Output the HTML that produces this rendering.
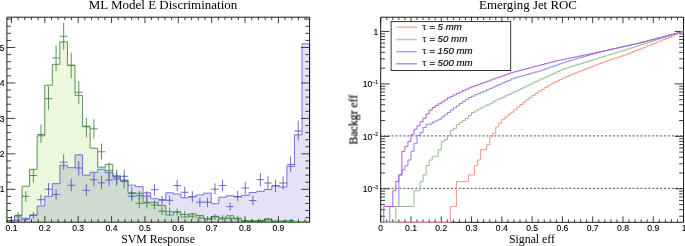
<!DOCTYPE html>
<html lang="en">
<head>
<meta charset="utf-8">
<title>ML Model E Discrimination / Emerging Jet ROC</title>
<style>
html,body{margin:0;padding:0;background:#fff;}
body{width:685px;height:246px;overflow:hidden;}
svg{display:block;}
</style>
</head>
<body>
<svg width="685" height="246" viewBox="0 0 685 246">
<rect x="0" y="0" width="685" height="246" fill="#fff"/>
<g id="left-plot">
<path d="M6.90 222.20 L6.90 220.40 L14.47 220.40 L14.47 215.70 L22.04 215.70 L22.04 186.20 L29.60 186.20 L29.60 169.30 L37.17 169.30 L37.17 135.80 L44.74 135.80 L44.74 85.20 L52.30 85.20 L52.30 64.30 L59.87 64.30 L59.87 41.80 L67.44 41.80 L67.44 65.30 L75.01 65.30 L75.01 95.30 L82.58 95.30 L82.58 126.20 L90.14 126.20 L90.14 148.20 L97.71 148.20 L97.71 167.20 L105.28 167.20 L105.28 164.30 L112.84 164.30 L112.84 175.80 L120.41 175.80 L120.41 180.00 L127.98 180.00 L127.98 192.80 L135.55 192.80 L135.55 193.30 L143.12 193.30 L143.12 202.20 L150.68 202.20 L150.68 202.20 L158.25 202.20 L158.25 205.60 L165.82 205.60 L165.82 215.00 L173.38 215.00 L173.38 212.00 L180.95 212.00 L180.95 217.00 L188.52 217.00 L188.52 213.80 L196.09 213.80 L196.09 215.40 L203.66 215.40 L203.66 218.90 L211.22 218.90 L211.22 216.30 L218.79 216.30 L218.79 218.90 L226.36 218.90 L226.36 215.70 L233.93 215.70 L233.93 218.90 L241.49 218.90 L241.49 221.60 L249.06 221.60 L249.06 221.60 L256.63 221.60 L256.63 221.60 L264.19 221.60 L264.19 218.90 L271.76 218.90 L271.76 222.20 L279.33 222.20 L279.33 222.20 L286.90 222.20 L286.90 222.20 L294.46 222.20 L294.46 222.20 L302.03 222.20 L302.03 222.20 L309.60 222.20 L309.60 222.20 Z" fill="#ebf8dd" stroke="none"/>
<path d="M6.90 222.20 L6.90 222.00 L14.47 222.00 L14.47 217.00 L22.04 217.00 L22.04 219.00 L29.60 219.00 L29.60 215.00 L37.17 215.00 L37.17 206.00 L44.74 206.00 L44.74 196.30 L52.30 196.30 L52.30 183.70 L59.87 183.70 L59.87 165.20 L67.44 165.20 L67.44 167.70 L75.01 167.70 L75.01 154.80 L82.58 154.80 L82.58 175.20 L90.14 175.20 L90.14 172.30 L97.71 172.30 L97.71 169.30 L105.28 169.30 L105.28 172.70 L112.84 172.70 L112.84 176.80 L120.41 176.80 L120.41 180.80 L127.98 180.80 L127.98 185.20 L135.55 185.20 L135.55 186.70 L143.12 186.70 L143.12 192.80 L150.68 192.80 L150.68 198.70 L158.25 198.70 L158.25 199.50 L165.82 199.50 L165.82 192.80 L173.38 192.80 L173.38 194.00 L180.95 194.00 L180.95 197.80 L188.52 197.80 L188.52 196.70 L196.09 196.70 L196.09 195.00 L203.66 195.00 L203.66 193.20 L211.22 193.20 L211.22 203.70 L218.79 203.70 L218.79 197.20 L226.36 197.20 L226.36 195.80 L233.93 195.80 L233.93 197.00 L241.49 197.00 L241.49 195.30 L249.06 195.30 L249.06 192.50 L256.63 192.50 L256.63 191.30 L264.19 191.30 L264.19 189.50 L271.76 189.50 L271.76 185.80 L279.33 185.80 L279.33 187.00 L286.90 187.00 L286.90 166.30 L294.46 166.30 L294.46 134.80 L302.03 134.80 L302.03 43.80 L309.60 43.80 L309.60 222.20 Z" fill="#e5e2f8" stroke="none"/>
<path d="M6.90 222.20 L6.90 222.00 L14.47 222.00 L14.47 217.00 L22.04 217.00 L22.04 219.00 L29.60 219.00 L29.60 215.00 L37.17 215.00 L37.17 206.00 L44.74 206.00 L44.74 196.30 L52.30 196.30 L52.30 183.70 L59.87 183.70 L59.87 165.20 L67.44 165.20 L67.44 167.70 L75.01 167.70 L75.01 154.80 L82.58 154.80 L82.58 175.20 L90.14 175.20 L90.14 172.30 L97.71 172.30 L97.71 169.30 L105.28 169.30 L105.28 172.70 L112.84 172.70 L112.84 176.80 L120.41 176.80 L120.41 180.80 L127.98 180.80 L127.98 192.80 L135.55 192.80 L135.55 193.30 L143.12 193.30 L143.12 202.20 L150.68 202.20 L150.68 202.20 L158.25 202.20 L158.25 205.60 L165.82 205.60 L165.82 215.00 L173.38 215.00 L173.38 212.00 L180.95 212.00 L180.95 217.00 L188.52 217.00 L188.52 213.80 L196.09 213.80 L196.09 215.40 L203.66 215.40 L203.66 218.90 L211.22 218.90 L211.22 216.30 L218.79 216.30 L218.79 218.90 L226.36 218.90 L226.36 215.70 L233.93 215.70 L233.93 218.90 L241.49 218.90 L241.49 221.60 L249.06 221.60 L249.06 221.60 L256.63 221.60 L256.63 221.60 L264.19 221.60 L264.19 218.90 L271.76 218.90 L271.76 222.20 L279.33 222.20 L279.33 222.20 L286.90 222.20 L286.90 222.20 L294.46 222.20 L294.46 222.20 L302.03 222.20 L302.03 222.20 L309.60 222.20 L309.60 222.20 Z" fill="#cddbd0" stroke="none"/>
<path d="M6.90 222.20 L6.90 220.40 L14.47 220.40 L14.47 215.70 L22.04 215.70 L22.04 186.20 L29.60 186.20 L29.60 169.30 L37.17 169.30 L37.17 135.80 L44.74 135.80 L44.74 85.20 L52.30 85.20 L52.30 64.30 L59.87 64.30 L59.87 41.80 L67.44 41.80 L67.44 65.30 L75.01 65.30 L75.01 95.30 L82.58 95.30 L82.58 126.20 L90.14 126.20 L90.14 148.20 L97.71 148.20 L97.71 167.20 L105.28 167.20 L105.28 164.30 L112.84 164.30 L112.84 175.80 L120.41 175.80 L120.41 180.00 L127.98 180.00 L127.98 192.80 L135.55 192.80 L135.55 193.30 L143.12 193.30 L143.12 202.20 L150.68 202.20 L150.68 202.20 L158.25 202.20 L158.25 205.60 L165.82 205.60 L165.82 215.00 L173.38 215.00 L173.38 212.00 L180.95 212.00 L180.95 217.00 L188.52 217.00 L188.52 213.80 L196.09 213.80 L196.09 215.40 L203.66 215.40 L203.66 218.90 L211.22 218.90 L211.22 216.30 L218.79 216.30 L218.79 218.90 L226.36 218.90 L226.36 215.70 L233.93 215.70 L233.93 218.90 L241.49 218.90 L241.49 221.60 L249.06 221.60 L249.06 221.60 L256.63 221.60 L256.63 221.60 L264.19 221.60 L264.19 218.90 L271.76 218.90 L271.76 222.20 L279.33 222.20 L279.33 222.20 L286.90 222.20 L286.90 222.20 L294.46 222.20 L294.46 222.20 L302.03 222.20 L302.03 222.20 L309.60 222.20 L309.60 222.20" fill="none" stroke="#4f8f4a" stroke-width="0.95" stroke-linejoin="miter"/>
<path d="M6.90 222.20 L6.90 222.00 L14.47 222.00 L14.47 217.00 L22.04 217.00 L22.04 219.00 L29.60 219.00 L29.60 215.00 L37.17 215.00 L37.17 206.00 L44.74 206.00 L44.74 196.30 L52.30 196.30 L52.30 183.70 L59.87 183.70 L59.87 165.20 L67.44 165.20 L67.44 167.70 L75.01 167.70 L75.01 154.80 L82.58 154.80 L82.58 175.20 L90.14 175.20 L90.14 172.30 L97.71 172.30 L97.71 169.30 L105.28 169.30 L105.28 172.70 L112.84 172.70 L112.84 176.80 L120.41 176.80 L120.41 180.80 L127.98 180.80 L127.98 185.20 L135.55 185.20 L135.55 186.70 L143.12 186.70 L143.12 192.80 L150.68 192.80 L150.68 198.70 L158.25 198.70 L158.25 199.50 L165.82 199.50 L165.82 192.80 L173.38 192.80 L173.38 194.00 L180.95 194.00 L180.95 197.80 L188.52 197.80 L188.52 196.70 L196.09 196.70 L196.09 195.00 L203.66 195.00 L203.66 193.20 L211.22 193.20 L211.22 203.70 L218.79 203.70 L218.79 197.20 L226.36 197.20 L226.36 195.80 L233.93 195.80 L233.93 197.00 L241.49 197.00 L241.49 195.30 L249.06 195.30 L249.06 192.50 L256.63 192.50 L256.63 191.30 L264.19 191.30 L264.19 189.50 L271.76 189.50 L271.76 185.80 L279.33 185.80 L279.33 187.00 L286.90 187.00 L286.90 166.30 L294.46 166.30 L294.46 134.80 L302.03 134.80 L302.03 43.80 L309.60 43.80 L309.60 222.20" fill="none" stroke="#6f6bd6" stroke-width="0.95" stroke-linejoin="miter"/>
<path d="M10.68 219.60V221.60M6.90 220.60H14.47M18.25 212.00V218.60M14.47 215.20H22.04M25.82 191.30V201.70M22.04 196.30H29.60M33.39 169.30V182.50M29.60 175.50H37.17M40.95 124.70V143.00M37.17 134.50H44.74M48.52 86.50V109.70M44.74 98.70H52.30M56.09 45.00V71.00M52.30 58.00H59.87M63.66 22.70V49.70M59.87 36.30H67.44M71.22 52.70V78.20M67.44 65.30H75.01M78.79 81.00V103.70M75.01 92.30H82.58M86.36 118.00V137.50M82.58 126.70H90.14M93.93 119.20V138.30M90.14 128.80H97.71M101.49 143.50V159.70M97.71 151.80H105.28M109.06 162.70V178.50M105.28 170.70H112.84M116.63 169.50V184.50M112.84 177.00H120.41M124.20 175.00V188.30M120.41 181.50H127.98M131.76 187.00V199.50M127.98 193.30H135.55M139.33 197.50V208.00M135.55 203.30H143.12M146.90 197.50V208.70M143.12 203.00H150.68M154.47 200.30V209.50M150.68 205.00H158.25M162.03 207.00V214.80M158.25 211.20H165.82M169.60 207.50V215.50M165.82 211.70H173.38M177.17 208.50V215.50M173.38 212.00H180.95M184.74 211.00V217.80M180.95 214.50H188.52M192.30 213.00V219.00M188.52 216.20H196.09M199.87 215.00V220.30M196.09 217.80H203.66M207.44 216.00V221.00M203.66 218.70H211.22M215.01 214.00V220.00M211.22 217.00H218.79M222.57 215.00V220.50M218.79 217.80H226.36M230.14 216.00V221.00M226.36 218.50H233.93M237.71 215.70V220.80M233.93 218.20H241.49M245.28 219.00V221.70M241.49 220.50H249.06M252.84 219.50V221.70M249.06 220.80H256.63M260.41 219.00V221.70M256.63 220.50H264.19M267.98 217.50V221.50M264.19 219.60H271.76M275.55 220.00V221.70M271.76 221.00H279.33M283.11 220.00V221.70M279.33 221.00H286.90M290.68 219.20V221.70M286.90 220.60H294.46" fill="none" stroke="#3f7f3f" stroke-width="0.85"/>
<path d="M18.25 218.60V221.80M14.47 220.20H22.04M25.82 217.00V221.00M22.04 219.00H29.60M33.39 212.00V218.50M29.60 215.40H37.17M40.95 194.70V204.70M37.17 199.70H44.74M48.52 183.00V195.30M44.74 189.20H52.30M56.09 189.20V199.70M52.30 194.50H59.87M63.66 154.30V169.70M59.87 162.20H67.44M71.22 178.70V191.30M67.44 185.30H75.01M78.79 161.00V175.70M75.01 168.00H82.58M86.36 184.20V195.80M82.58 190.30H90.14M93.93 172.70V186.30M90.14 179.70H97.71M101.49 175.70V189.20M97.71 182.80H105.28M109.06 173.50V186.30M105.28 180.00H112.84M116.63 172.00V186.00M112.84 179.00H120.41M124.20 169.70V182.50M120.41 176.30H127.98M131.76 191.50V201.20M127.98 196.20H135.55M139.33 191.00V200.00M135.55 195.70H143.12M146.90 191.20V201.20M143.12 196.20H150.68M154.47 183.90V195.30M150.68 189.70H158.25M162.03 196.00V205.30M158.25 200.30H165.82M169.60 195.50V205.30M165.82 200.30H173.38M177.17 180.00V191.00M173.38 185.60H180.95M184.74 186.70V197.80M180.95 192.30H188.52M192.30 191.20V202.00M188.52 196.70H196.09M199.87 197.80V207.00M196.09 202.20H203.66M207.44 197.50V207.00M203.66 202.20H211.22M215.01 183.30V194.50M211.22 189.20H218.79M222.57 179.70V191.00M218.79 185.50H226.36M230.14 202.50V210.70M226.36 206.60H233.93M237.71 191.00V201.20M233.93 196.50H241.49M245.28 182.00V194.20M241.49 188.00H249.06M252.84 195.80V205.40M249.06 200.60H256.63M260.41 173.00V186.30M256.63 179.70H264.19M267.98 176.30V189.20M264.19 183.00H271.76M275.55 180.00V192.00M271.76 185.80H279.33M283.11 176.30V189.20M279.33 183.00H286.90M290.68 156.60V172.00M286.90 164.60H294.46M298.25 120.70V140.40M294.46 131.00H302.03" fill="none" stroke="#5552c4" stroke-width="0.85"/>
<path d="M6.90 17.20H309.60V222.20H6.90Z" fill="none" stroke="#000" stroke-width="0.90"/>
<path d="M11.45 222.20v-6.00M11.45 17.20v6.00M18.12 222.20v-2.90M18.12 17.20v2.90M24.80 222.20v-2.90M24.80 17.20v2.90M31.47 222.20v-2.90M31.47 17.20v2.90M38.15 222.20v-2.90M38.15 17.20v2.90M44.82 222.20v-6.00M44.82 17.20v6.00M51.49 222.20v-2.90M51.49 17.20v2.90M58.17 222.20v-2.90M58.17 17.20v2.90M64.84 222.20v-2.90M64.84 17.20v2.90M71.52 222.20v-2.90M71.52 17.20v2.90M78.19 222.20v-6.00M78.19 17.20v6.00M84.86 222.20v-2.90M84.86 17.20v2.90M91.54 222.20v-2.90M91.54 17.20v2.90M98.21 222.20v-2.90M98.21 17.20v2.90M104.89 222.20v-2.90M104.89 17.20v2.90M111.56 222.20v-6.00M111.56 17.20v6.00M118.23 222.20v-2.90M118.23 17.20v2.90M124.91 222.20v-2.90M124.91 17.20v2.90M131.58 222.20v-2.90M131.58 17.20v2.90M138.26 222.20v-2.90M138.26 17.20v2.90M144.93 222.20v-6.00M144.93 17.20v6.00M151.60 222.20v-2.90M151.60 17.20v2.90M158.28 222.20v-2.90M158.28 17.20v2.90M164.95 222.20v-2.90M164.95 17.20v2.90M171.63 222.20v-2.90M171.63 17.20v2.90M178.30 222.20v-6.00M178.30 17.20v6.00M184.97 222.20v-2.90M184.97 17.20v2.90M191.65 222.20v-2.90M191.65 17.20v2.90M198.32 222.20v-2.90M198.32 17.20v2.90M205.00 222.20v-2.90M205.00 17.20v2.90M211.67 222.20v-6.00M211.67 17.20v6.00M218.34 222.20v-2.90M218.34 17.20v2.90M225.02 222.20v-2.90M225.02 17.20v2.90M231.69 222.20v-2.90M231.69 17.20v2.90M238.37 222.20v-2.90M238.37 17.20v2.90M245.04 222.20v-6.00M245.04 17.20v6.00M251.71 222.20v-2.90M251.71 17.20v2.90M258.39 222.20v-2.90M258.39 17.20v2.90M265.06 222.20v-2.90M265.06 17.20v2.90M271.74 222.20v-2.90M271.74 17.20v2.90M278.41 222.20v-6.00M278.41 17.20v6.00M285.08 222.20v-2.90M285.08 17.20v2.90M291.76 222.20v-2.90M291.76 17.20v2.90M298.43 222.20v-2.90M298.43 17.20v2.90M305.11 222.20v-2.90M305.11 17.20v2.90M6.90 217.66h4.20M309.60 217.66h-4.20M6.90 210.57h4.20M309.60 210.57h-4.20M6.90 203.48h4.20M309.60 203.48h-4.20M6.90 196.39h4.20M309.60 196.39h-4.20M6.90 189.30h8.40M309.60 189.30h-8.40M6.90 182.21h4.20M309.60 182.21h-4.20M6.90 175.12h4.20M309.60 175.12h-4.20M6.90 168.03h4.20M309.60 168.03h-4.20M6.90 160.94h4.20M309.60 160.94h-4.20M6.90 153.85h8.40M309.60 153.85h-8.40M6.90 146.76h4.20M309.60 146.76h-4.20M6.90 139.67h4.20M309.60 139.67h-4.20M6.90 132.58h4.20M309.60 132.58h-4.20M6.90 125.49h4.20M309.60 125.49h-4.20M6.90 118.40h8.40M309.60 118.40h-8.40M6.90 111.31h4.20M309.60 111.31h-4.20M6.90 104.22h4.20M309.60 104.22h-4.20M6.90 97.13h4.20M309.60 97.13h-4.20M6.90 90.04h4.20M309.60 90.04h-4.20M6.90 82.95h8.40M309.60 82.95h-8.40M6.90 75.86h4.20M309.60 75.86h-4.20M6.90 68.77h4.20M309.60 68.77h-4.20M6.90 61.68h4.20M309.60 61.68h-4.20M6.90 54.59h4.20M309.60 54.59h-4.20M6.90 47.50h8.40M309.60 47.50h-8.40M6.90 40.41h4.20M309.60 40.41h-4.20M6.90 33.32h4.20M309.60 33.32h-4.20M6.90 26.23h4.20M309.60 26.23h-4.20M6.90 19.14h4.20M309.60 19.14h-4.20" fill="none" stroke="#151515" stroke-width="0.82"/>
<path d="M241.49 222.35H310.00" fill="none" stroke="#4f8f4a" stroke-width="1"/>
<g font-family="'Liberation Sans', Arial, Helvetica, sans-serif" font-size="8.6" fill="#000" stroke="#000" stroke-width="0.12" style="filter:grayscale(1)">
<text x="11.45" y="231.1" text-anchor="middle">0.1</text>
<text x="44.82" y="231.1" text-anchor="middle">0.2</text>
<text x="78.19" y="231.1" text-anchor="middle">0.3</text>
<text x="111.56" y="231.1" text-anchor="middle">0.4</text>
<text x="144.93" y="231.1" text-anchor="middle">0.5</text>
<text x="178.30" y="231.1" text-anchor="middle">0.6</text>
<text x="211.67" y="231.1" text-anchor="middle">0.7</text>
<text x="245.04" y="231.1" text-anchor="middle">0.8</text>
<text x="278.41" y="231.1" text-anchor="middle">0.9</text>
<text x="4.6" y="192.40" text-anchor="end">1</text>
<text x="4.6" y="156.95" text-anchor="end">2</text>
<text x="4.6" y="121.50" text-anchor="end">3</text>
<text x="4.6" y="86.05" text-anchor="end">4</text>
<text x="4.6" y="50.60" text-anchor="end">5</text>
</g>
<g font-family="'Liberation Serif', 'Times New Roman', Times, serif" fill="#000" style="filter:grayscale(1)">
<text x="163" y="9.4" font-size="13" text-anchor="middle">ML Model E Discrimination</text>
<text x="158" y="243.1" font-size="11.8" text-anchor="middle">SVM Response</text>
</g>
</g>
<g id="right-plot">
<line x1="380.70" y1="135.90" x2="683.55" y2="135.90" stroke="#444" stroke-width="0.95" stroke-dasharray="2.1 1.85" stroke-dashoffset="1"/>
<line x1="380.70" y1="188.35" x2="683.55" y2="188.35" stroke="#444" stroke-width="0.95" stroke-dasharray="2.1 1.85" stroke-dashoffset="1"/>
<path d="M380.70 17.20H683.55V222.30H380.70Z" fill="none" stroke="#000" stroke-width="0.90"/>
<path d="M380.70 222.30v-6.00M380.70 17.20v6.00M386.76 222.30v-2.90M386.76 17.20v2.90M392.81 222.30v-2.90M392.81 17.20v2.90M398.87 222.30v-2.90M398.87 17.20v2.90M404.93 222.30v-2.90M404.93 17.20v2.90M410.99 222.30v-6.00M410.99 17.20v6.00M417.04 222.30v-2.90M417.04 17.20v2.90M423.10 222.30v-2.90M423.10 17.20v2.90M429.16 222.30v-2.90M429.16 17.20v2.90M435.21 222.30v-2.90M435.21 17.20v2.90M441.27 222.30v-6.00M441.27 17.20v6.00M447.33 222.30v-2.90M447.33 17.20v2.90M453.38 222.30v-2.90M453.38 17.20v2.90M459.44 222.30v-2.90M459.44 17.20v2.90M465.50 222.30v-2.90M465.50 17.20v2.90M471.55 222.30v-6.00M471.55 17.20v6.00M477.61 222.30v-2.90M477.61 17.20v2.90M483.67 222.30v-2.90M483.67 17.20v2.90M489.73 222.30v-2.90M489.73 17.20v2.90M495.78 222.30v-2.90M495.78 17.20v2.90M501.84 222.30v-6.00M501.84 17.20v6.00M507.90 222.30v-2.90M507.90 17.20v2.90M513.95 222.30v-2.90M513.95 17.20v2.90M520.01 222.30v-2.90M520.01 17.20v2.90M526.07 222.30v-2.90M526.07 17.20v2.90M532.12 222.30v-6.00M532.12 17.20v6.00M538.18 222.30v-2.90M538.18 17.20v2.90M544.24 222.30v-2.90M544.24 17.20v2.90M550.30 222.30v-2.90M550.30 17.20v2.90M556.35 222.30v-2.90M556.35 17.20v2.90M562.41 222.30v-6.00M562.41 17.20v6.00M568.47 222.30v-2.90M568.47 17.20v2.90M574.52 222.30v-2.90M574.52 17.20v2.90M580.58 222.30v-2.90M580.58 17.20v2.90M586.64 222.30v-2.90M586.64 17.20v2.90M592.69 222.30v-6.00M592.69 17.20v6.00M598.75 222.30v-2.90M598.75 17.20v2.90M604.81 222.30v-2.90M604.81 17.20v2.90M610.87 222.30v-2.90M610.87 17.20v2.90M616.92 222.30v-2.90M616.92 17.20v2.90M622.98 222.30v-6.00M622.98 17.20v6.00M629.04 222.30v-2.90M629.04 17.20v2.90M635.09 222.30v-2.90M635.09 17.20v2.90M641.15 222.30v-2.90M641.15 17.20v2.90M647.21 222.30v-2.90M647.21 17.20v2.90M653.26 222.30v-6.00M653.26 17.20v6.00M659.32 222.30v-2.90M659.32 17.20v2.90M665.38 222.30v-2.90M665.38 17.20v2.90M671.44 222.30v-2.90M671.44 17.20v2.90M677.49 222.30v-2.90M677.49 17.20v2.90M683.55 222.30v-6.00M683.55 17.20v6.00M380.70 216.22h4.40M683.55 216.22h-4.40M380.70 209.67h4.40M683.55 209.67h-4.40M380.70 204.59h4.40M683.55 204.59h-4.40M380.70 200.44h4.40M683.55 200.44h-4.40M380.70 196.92h4.40M683.55 196.92h-4.40M380.70 193.88h4.40M683.55 193.88h-4.40M380.70 191.20h4.40M683.55 191.20h-4.40M380.70 188.80h8.80M683.55 188.80h-8.80M380.70 173.01h4.40M683.55 173.01h-4.40M380.70 163.77h4.40M683.55 163.77h-4.40M380.70 157.22h4.40M683.55 157.22h-4.40M380.70 152.14h4.40M683.55 152.14h-4.40M380.70 147.99h4.40M683.55 147.99h-4.40M380.70 144.47h4.40M683.55 144.47h-4.40M380.70 141.43h4.40M683.55 141.43h-4.40M380.70 138.75h4.40M683.55 138.75h-4.40M380.70 136.35h8.80M683.55 136.35h-8.80M380.70 120.56h4.40M683.55 120.56h-4.40M380.70 111.32h4.40M683.55 111.32h-4.40M380.70 104.77h4.40M683.55 104.77h-4.40M380.70 99.69h4.40M683.55 99.69h-4.40M380.70 95.54h4.40M683.55 95.54h-4.40M380.70 92.02h4.40M683.55 92.02h-4.40M380.70 88.98h4.40M683.55 88.98h-4.40M380.70 86.30h4.40M683.55 86.30h-4.40M380.70 83.90h8.80M683.55 83.90h-8.80M380.70 68.11h4.40M683.55 68.11h-4.40M380.70 58.87h4.40M683.55 58.87h-4.40M380.70 52.32h4.40M683.55 52.32h-4.40M380.70 47.24h4.40M683.55 47.24h-4.40M380.70 43.09h4.40M683.55 43.09h-4.40M380.70 39.57h4.40M683.55 39.57h-4.40M380.70 36.53h4.40M683.55 36.53h-4.40M380.70 33.85h4.40M683.55 33.85h-4.40M380.70 31.45h8.80M683.55 31.45h-8.80" fill="none" stroke="#151515" stroke-width="0.82"/>
<path d="M380.70 222.30 L380.70 222.30 L383.73 222.30 L383.73 222.30 L386.76 222.30 L386.76 222.30 L389.79 222.30 L389.79 222.30 L392.81 222.30 L392.81 222.30 L395.84 222.30 L395.84 222.30 L398.87 222.30 L398.87 222.30 L401.90 222.30 L401.90 222.30 L404.93 222.30 L404.93 222.30 L407.96 222.30 L407.96 222.30 L410.99 222.30 L410.99 222.30 L414.01 222.30 L414.01 222.30 L417.04 222.30 L417.04 222.30 L420.07 222.30 L420.07 222.30 L423.10 222.30 L423.10 222.30 L426.13 222.30 L426.13 222.30 L429.16 222.30 L429.16 222.30 L432.18 222.30 L432.18 222.30 L435.21 222.30 L435.21 222.30 L438.24 222.30 L438.24 222.30 L441.27 222.30 L441.27 222.30 L444.30 222.30 L444.30 222.30 L447.33 222.30 L447.33 222.30 L450.36 222.30 L450.36 206.50 L453.38 206.50 L453.38 206.50 L456.41 206.50 L456.41 181.48 L459.44 181.48 L459.44 181.48 L462.47 181.48 L462.47 181.48 L465.50 181.48 L465.50 181.48 L468.53 181.48 L468.53 174.92 L471.55 174.92 L471.55 174.92 L474.58 174.92 L474.58 165.69 L477.61 165.69 L477.61 160.00 L480.64 160.00 L480.64 149.70 L483.67 149.70 L483.67 149.70 L486.70 149.70 L486.70 144.70 L489.73 144.70 L489.73 136.70 L492.75 136.70 L492.75 133.18 L495.78 133.18 L495.78 126.86 L498.81 126.86 L498.81 123.05 L501.84 123.05 L501.84 119.29 L504.87 119.29 L504.87 116.94 L507.90 116.94 L507.90 114.41 L510.93 114.41 L510.93 112.13 L513.95 112.13 L513.95 109.73 L516.98 109.73 L516.98 106.97 L520.01 106.97 L520.01 104.51 L523.04 104.51 L523.04 102.06 L526.07 102.06 L526.07 99.64 L529.10 99.64 L529.10 97.64 L532.12 97.64 L532.12 95.45 L535.15 95.45 L535.15 93.30 L538.18 93.30 L538.18 91.18 L541.21 91.18 L541.21 89.38 L544.24 89.38 L544.24 87.59 L547.27 87.59 L547.27 85.81 L550.30 85.81 L550.30 83.95 L553.32 83.95 L553.32 82.43 L556.35 82.43 L556.35 81.00 L559.38 81.00 L559.38 79.49 L562.41 79.49 L562.41 77.91 L565.44 77.91 L565.44 76.65 L568.47 76.65 L568.47 75.47 L571.50 75.47 L571.50 74.27 L574.52 74.27 L574.52 73.07 L577.55 73.07 L577.55 71.86 L580.58 71.86 L580.58 70.66 L583.61 70.66 L583.61 69.41 L586.64 69.41 L586.64 68.22 L589.67 68.22 L589.67 67.04 L592.69 67.04 L592.69 65.87 L595.72 65.87 L595.72 64.71 L598.75 64.71 L598.75 63.57 L601.78 63.57 L601.78 62.40 L604.81 62.40 L604.81 61.25 L607.84 61.25 L607.84 60.23 L610.87 60.23 L610.87 59.21 L613.89 59.21 L613.89 58.21 L616.92 58.21 L616.92 57.21 L619.95 57.21 L619.95 56.20 L622.98 56.20 L622.98 55.19 L626.01 55.19 L626.01 54.18 L629.04 54.18 L629.04 52.99 L632.07 52.99 L632.07 51.76 L635.09 51.76 L635.09 50.56 L638.12 50.56 L638.12 49.33 L641.15 49.33 L641.15 48.13 L644.18 48.13 L644.18 46.90 L647.21 46.90 L647.21 45.69 L650.24 45.69 L650.24 44.47 L653.26 44.47 L653.26 43.28 L656.29 43.28 L656.29 42.08 L659.32 42.08 L659.32 40.88 L662.35 40.88 L662.35 39.67 L665.38 39.67 L665.38 38.43 L668.41 38.43 L668.41 37.17 L671.44 37.17 L671.44 35.90 L674.46 35.90 L674.46 34.64 L677.49 34.64 L677.49 33.37 L680.52 33.37 L680.52 31.80 L683.55 31.80" fill="none" stroke="#ee948a" stroke-width="1.0" stroke-linejoin="miter"/>
<path d="M380.70 222.30 L380.70 222.30 L383.73 222.30 L383.73 222.30 L386.76 222.30 L386.76 222.30 L389.79 222.30 L389.79 206.50 L392.81 206.50 L392.81 206.50 L395.84 206.50 L395.84 206.50 L398.87 206.50 L398.87 174.92 L401.90 174.92 L401.90 169.84 L404.93 169.84 L404.93 165.69 L407.96 165.69 L407.96 160.00 L410.99 160.00 L410.99 151.30 L414.01 151.30 L414.01 143.30 L417.04 143.30 L417.04 135.30 L420.07 135.30 L420.07 132.50 L423.10 132.50 L423.10 127.50 L426.13 127.50 L426.13 124.20 L429.16 124.20 L429.16 124.20 L432.18 124.20 L432.18 122.00 L435.21 122.00 L435.21 120.80 L438.24 120.80 L438.24 119.29 L441.27 119.29 L441.27 116.94 L444.30 116.94 L444.30 114.81 L447.33 114.81 L447.33 112.49 L450.36 112.49 L450.36 110.05 L453.38 110.05 L453.38 107.85 L456.41 107.85 L456.41 105.85 L459.44 105.85 L459.44 103.50 L462.47 103.50 L462.47 101.38 L465.50 101.38 L465.50 99.22 L468.53 99.22 L468.53 97.45 L471.55 97.45 L471.55 96.16 L474.58 96.16 L474.58 94.77 L477.61 94.77 L477.61 93.61 L480.64 93.61 L480.64 92.21 L483.67 92.21 L483.67 91.04 L486.70 91.04 L486.70 89.65 L489.73 89.65 L489.73 88.34 L492.75 88.34 L492.75 86.98 L495.78 86.98 L495.78 85.59 L498.81 85.59 L498.81 84.27 L501.84 84.27 L501.84 82.93 L504.87 82.93 L504.87 81.57 L507.90 81.57 L507.90 80.28 L510.93 80.28 L510.93 78.89 L513.95 78.89 L513.95 77.83 L516.98 77.83 L516.98 76.96 L520.01 76.96 L520.01 76.13 L523.04 76.13 L523.04 75.32 L526.07 75.32 L526.07 74.47 L529.10 74.47 L529.10 73.66 L532.12 73.66 L532.12 72.81 L535.15 72.81 L535.15 71.99 L538.18 71.99 L538.18 71.13 L541.21 71.13 L541.21 70.08 L544.24 70.08 L544.24 69.02 L547.27 69.02 L547.27 68.01 L550.30 68.01 L550.30 66.94 L553.32 66.94 L553.32 65.92 L556.35 65.92 L556.35 64.85 L559.38 64.85 L559.38 63.79 L562.41 63.79 L562.41 62.77 L565.44 62.77 L565.44 61.72 L568.47 61.72 L568.47 60.71 L571.50 60.71 L571.50 59.86 L574.52 59.86 L574.52 58.96 L577.55 58.96 L577.55 58.10 L580.58 58.10 L580.58 57.24 L583.61 57.24 L583.61 56.35 L586.64 56.35 L586.64 55.49 L589.67 55.49 L589.67 54.61 L592.69 54.61 L592.69 53.76 L595.72 53.76 L595.72 52.88 L598.75 52.88 L598.75 51.99 L601.78 51.99 L601.78 51.20 L604.81 51.20 L604.81 50.51 L607.84 50.51 L607.84 49.85 L610.87 49.85 L610.87 49.15 L613.89 49.15 L613.89 48.48 L616.92 48.48 L616.92 47.78 L619.95 47.78 L619.95 47.11 L622.98 47.11 L622.98 46.43 L626.01 46.43 L626.01 45.73 L629.04 45.73 L629.04 45.06 L632.07 45.06 L632.07 44.38 L635.09 44.38 L635.09 43.69 L638.12 43.69 L638.12 43.00 L641.15 43.00 L641.15 42.23 L644.18 42.23 L644.18 41.44 L647.21 41.44 L647.21 40.64 L650.24 40.64 L650.24 39.84 L653.26 39.84 L653.26 39.04 L656.29 39.04 L656.29 38.25 L659.32 38.25 L659.32 37.46 L662.35 37.46 L662.35 36.65 L665.38 36.65 L665.38 35.86 L668.41 35.86 L668.41 35.06 L671.44 35.06 L671.44 34.27 L674.46 34.27 L674.46 33.48 L677.49 33.48 L677.49 32.68 L680.52 32.68 L680.52 31.80 L683.55 31.80" fill="none" stroke="#8986e3" stroke-width="1.0" stroke-linejoin="miter"/>
<path d="M380.70 222.30 L380.70 222.30 L383.73 222.30 L383.73 222.30 L386.76 222.30 L386.76 222.30 L389.79 222.30 L389.79 222.30 L392.81 222.30 L392.81 222.30 L395.84 222.30 L395.84 206.50 L398.87 206.50 L398.87 206.50 L401.90 206.50 L401.90 206.50 L404.93 206.50 L404.93 206.50 L407.96 206.50 L407.96 206.50 L410.99 206.50 L410.99 206.50 L414.01 206.50 L414.01 190.71 L417.04 190.71 L417.04 190.71 L420.07 190.71 L420.07 181.48 L423.10 181.48 L423.10 174.92 L426.13 174.92 L426.13 165.69 L429.16 165.69 L429.16 160.00 L432.18 160.00 L432.18 156.30 L435.21 156.30 L435.21 156.30 L438.24 156.30 L438.24 149.70 L441.27 149.70 L441.27 141.30 L444.30 141.30 L444.30 139.70 L447.33 139.70 L447.33 135.80 L450.36 135.80 L450.36 130.30 L453.38 130.30 L453.38 128.30 L456.41 128.30 L456.41 124.70 L459.44 124.70 L459.44 122.50 L462.47 122.50 L462.47 120.50 L465.50 120.50 L465.50 118.32 L468.53 118.32 L468.53 115.64 L471.55 115.64 L471.55 112.49 L474.58 112.49 L474.58 110.72 L477.61 110.72 L477.61 109.08 L480.64 109.08 L480.64 107.85 L483.67 107.85 L483.67 106.12 L486.70 106.12 L486.70 104.77 L489.73 104.77 L489.73 103.25 L492.75 103.25 L492.75 101.60 L495.78 101.60 L495.78 100.06 L498.81 100.06 L498.81 98.62 L501.84 98.62 L501.84 97.26 L504.87 97.26 L504.87 95.80 L507.90 95.80 L507.90 94.43 L510.93 94.43 L510.93 92.98 L513.95 92.98 L513.95 91.62 L516.98 91.62 L516.98 90.19 L520.01 90.19 L520.01 88.72 L523.04 88.72 L523.04 87.22 L526.07 87.22 L526.07 85.81 L529.10 85.81 L529.10 84.27 L532.12 84.27 L532.12 82.83 L535.15 82.83 L535.15 81.38 L538.18 81.38 L538.18 80.01 L541.21 80.01 L541.21 78.64 L544.24 78.64 L544.24 77.27 L547.27 77.27 L547.27 75.83 L550.30 75.83 L550.30 74.47 L553.32 74.47 L553.32 73.13 L556.35 73.13 L556.35 71.74 L559.38 71.74 L559.38 70.37 L562.41 70.37 L562.41 69.02 L565.44 69.02 L565.44 68.01 L568.47 68.01 L568.47 67.09 L571.50 67.09 L571.50 66.16 L574.52 66.16 L574.52 65.26 L577.55 65.26 L577.55 64.31 L580.58 64.31 L580.58 63.40 L583.61 63.40 L583.61 62.48 L586.64 62.48 L586.64 61.56 L589.67 61.56 L589.67 60.64 L592.69 60.64 L592.69 59.68 L595.72 59.68 L595.72 58.72 L598.75 58.72 L598.75 57.77 L601.78 57.77 L601.78 56.83 L604.81 56.83 L604.81 55.86 L607.84 55.86 L607.84 54.90 L610.87 54.90 L610.87 53.95 L613.89 53.95 L613.89 53.02 L616.92 53.02 L616.92 52.06 L619.95 52.06 L619.95 51.10 L622.98 51.10 L622.98 50.15 L626.01 50.15 L626.01 49.20 L629.04 49.20 L629.04 48.21 L632.07 48.21 L632.07 47.25 L635.09 47.25 L635.09 46.29 L638.12 46.29 L638.12 45.32 L641.15 45.32 L641.15 44.34 L644.18 44.34 L644.18 43.39 L647.21 43.39 L647.21 42.42 L650.24 42.42 L650.24 41.44 L653.26 41.44 L653.26 40.47 L656.29 40.47 L656.29 39.52 L659.32 39.52 L659.32 38.57 L662.35 38.57 L662.35 37.63 L665.38 37.63 L665.38 36.68 L668.41 36.68 L668.41 35.74 L671.44 35.74 L671.44 34.80 L674.46 34.80 L674.46 33.85 L677.49 33.85 L677.49 32.90 L680.52 32.90 L680.52 31.80 L683.55 31.80" fill="none" stroke="#92bd8e" stroke-width="1.0" stroke-linejoin="miter"/>
<path d="M380.70 222.30 L380.70 222.30 L383.73 222.30 L383.73 206.50 L386.76 206.50 L386.76 206.50 L389.79 206.50 L389.79 206.50 L392.81 206.50 L392.81 190.71 L395.84 190.71 L395.84 181.48 L398.87 181.48 L398.87 174.92 L401.90 174.92 L401.90 151.30 L404.93 151.30 L404.93 146.30 L407.96 146.30 L407.96 141.30 L410.99 141.30 L410.99 134.70 L414.01 134.70 L414.01 129.20 L417.04 129.20 L417.04 125.80 L420.07 125.80 L420.07 121.70 L423.10 121.70 L423.10 118.32 L426.13 118.32 L426.13 114.01 L429.16 114.01 L429.16 110.05 L432.18 110.05 L432.18 107.56 L435.21 107.56 L435.21 105.57 L438.24 105.57 L438.24 103.75 L441.27 103.75 L441.27 101.83 L444.30 101.83 L444.30 99.85 L447.33 99.85 L447.33 97.83 L450.36 97.83 L450.36 96.34 L453.38 96.34 L453.38 94.94 L456.41 94.94 L456.41 93.45 L459.44 93.45 L459.44 92.06 L462.47 92.06 L462.47 90.61 L465.50 90.61 L465.50 89.25 L468.53 89.25 L468.53 87.84 L471.55 87.84 L471.55 86.74 L474.58 86.74 L474.58 85.59 L477.61 85.59 L477.61 84.49 L480.64 84.49 L480.64 83.33 L483.67 83.33 L483.67 82.24 L486.70 82.24 L486.70 81.19 L489.73 81.19 L489.73 80.01 L492.75 80.01 L492.75 78.89 L495.78 78.89 L495.78 77.83 L498.81 77.83 L498.81 76.81 L501.84 76.81 L501.84 75.76 L504.87 75.76 L504.87 74.75 L507.90 74.75 L507.90 73.66 L510.93 73.66 L510.93 72.61 L513.95 72.61 L513.95 71.74 L516.98 71.74 L516.98 70.89 L520.01 70.89 L520.01 70.14 L523.04 70.14 L523.04 69.35 L526.07 69.35 L526.07 68.54 L529.10 68.54 L529.10 67.75 L532.12 67.75 L532.12 66.94 L535.15 66.94 L535.15 66.16 L538.18 66.16 L538.18 65.35 L541.21 65.35 L541.21 64.53 L544.24 64.53 L544.24 63.74 L547.27 63.74 L547.27 62.94 L550.30 62.94 L550.30 62.12 L553.32 62.12 L553.32 61.33 L556.35 61.33 L556.35 60.60 L559.38 60.60 L559.38 60.00 L562.41 60.00 L562.41 59.35 L565.44 59.35 L565.44 58.76 L568.47 58.76 L568.47 58.10 L571.50 58.10 L571.50 57.51 L574.52 57.51 L574.52 56.86 L577.55 56.86 L577.55 56.23 L580.58 56.23 L580.58 55.61 L583.61 55.61 L583.61 54.99 L586.64 54.99 L586.64 54.38 L589.67 54.38 L589.67 53.73 L592.69 53.73 L592.69 53.12 L595.72 53.12 L595.72 52.48 L598.75 52.48 L598.75 51.81 L601.78 51.81 L601.78 51.13 L604.81 51.13 L604.81 50.46 L607.84 50.46 L607.84 49.78 L610.87 49.78 L610.87 49.11 L613.89 49.11 L613.89 48.43 L616.92 48.43 L616.92 47.74 L619.95 47.74 L619.95 47.06 L622.98 47.06 L622.98 46.39 L626.01 46.39 L626.01 45.71 L629.04 45.71 L629.04 45.04 L632.07 45.04 L632.07 44.36 L635.09 44.36 L635.09 43.69 L638.12 43.69 L638.12 43.00 L641.15 43.00 L641.15 42.23 L644.18 42.23 L644.18 41.44 L647.21 41.44 L647.21 40.64 L650.24 40.64 L650.24 39.84 L653.26 39.84 L653.26 39.04 L656.29 39.04 L656.29 38.25 L659.32 38.25 L659.32 37.46 L662.35 37.46 L662.35 36.65 L665.38 36.65 L665.38 35.86 L668.41 35.86 L668.41 35.06 L671.44 35.06 L671.44 34.27 L674.46 34.27 L674.46 33.48 L677.49 33.48 L677.49 32.68 L680.52 32.68 L680.52 31.80 L683.55 31.80" fill="none" stroke="#ab5cda" stroke-width="1.0" stroke-linejoin="miter"/>
<g font-family="'Liberation Sans', Arial, Helvetica, sans-serif" font-size="8.6" fill="#000" stroke="#000" stroke-width="0.12" style="filter:grayscale(1)">
<text x="380.70" y="231.1" text-anchor="middle">0</text>
<text x="410.99" y="231.1" text-anchor="middle">0.1</text>
<text x="441.27" y="231.1" text-anchor="middle">0.2</text>
<text x="471.55" y="231.1" text-anchor="middle">0.3</text>
<text x="501.84" y="231.1" text-anchor="middle">0.4</text>
<text x="532.12" y="231.1" text-anchor="middle">0.5</text>
<text x="562.41" y="231.1" text-anchor="middle">0.6</text>
<text x="592.69" y="231.1" text-anchor="middle">0.7</text>
<text x="622.98" y="231.1" text-anchor="middle">0.8</text>
<text x="653.26" y="231.1" text-anchor="middle">0.9</text>
<text x="684.15" y="231.1" text-anchor="middle">1</text>
<text x="378.4" y="34.75" text-anchor="end">1</text>
<text x="377.9" y="87.10" text-anchor="end">10<tspan font-size="4.8" dy="-3.1">−1</tspan></text>
<text x="377.9" y="139.55" text-anchor="end">10<tspan font-size="4.8" dy="-3.1">−2</tspan></text>
<text x="377.9" y="192.00" text-anchor="end">10<tspan font-size="4.8" dy="-3.1">−3</tspan></text>
</g>
<g font-family="'Liberation Serif', 'Times New Roman', Times, serif" fill="#000" style="filter:grayscale(1)">
<text x="528" y="9.4" font-size="12.9" text-anchor="middle">Emerging Jet ROC</text>
<text x="532" y="243.1" font-size="11.8" text-anchor="middle">Signal eff</text>
<text transform="translate(357.4 119.6) rotate(-90)" font-size="11.8" stroke="#000" stroke-width="0.18" text-anchor="middle">Backgr eff</text>
</g>
<rect x="391.1" y="21.6" width="119.6" height="48.9" fill="#fff" stroke="#222" stroke-width="0.9"/>
<line x1="396.3" y1="27.10" x2="416.8" y2="27.10" stroke="#ee948a" stroke-width="1.5" stroke-opacity="0.72"/>
<line x1="396.3" y1="39.55" x2="416.8" y2="39.55" stroke="#92bd8e" stroke-width="1.5" stroke-opacity="0.72"/>
<line x1="396.3" y1="51.70" x2="416.8" y2="51.70" stroke="#8986e3" stroke-width="1.5" stroke-opacity="0.72"/>
<line x1="396.3" y1="63.75" x2="416.8" y2="63.75" stroke="#ab5cda" stroke-width="1.5" stroke-opacity="0.72"/>
<g font-family="'Liberation Sans', Arial, Helvetica, sans-serif" font-size="9.7" fill="#000" stroke="#000" stroke-width="0.16" style="filter:grayscale(1)">
<text x="422" y="30.30"><tspan font-family="'Liberation Serif', 'DejaVu Serif', serif" font-size="11.4" stroke="none">τ</tspan><tspan font-style="italic"> = 5 mm</tspan></text>
<text x="422" y="42.30"><tspan font-family="'Liberation Serif', 'DejaVu Serif', serif" font-size="11.4" stroke="none">τ</tspan><tspan font-style="italic"> = 50 mm</tspan></text>
<text x="422" y="54.40"><tspan font-family="'Liberation Serif', 'DejaVu Serif', serif" font-size="11.4" stroke="none">τ</tspan><tspan font-style="italic"> = 150 mm</tspan></text>
<text x="422" y="66.40"><tspan font-family="'Liberation Serif', 'DejaVu Serif', serif" font-size="11.4" stroke="none">τ</tspan><tspan font-style="italic"> = 500 mm</tspan></text>
</g>
</g>
</svg>
</body>
</html>
